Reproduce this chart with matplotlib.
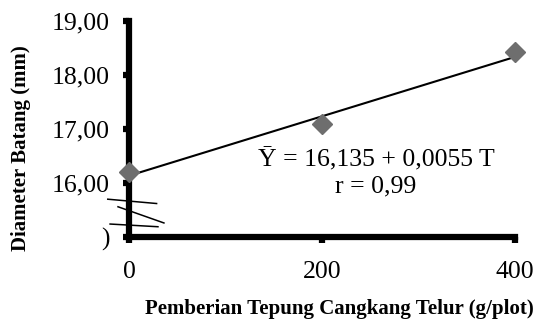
import numpy as np
import matplotlib.pyplot as plt

# data
dosis = [0, 200, 400]
diameter = [16.20, 17.10, 18.43]
a, b = 16.135, 0.0055
ytick_pos = [15, 16, 17, 18, 19]
ytick_lab = [")", "16,00", "17,00", "18,00", "19,00"]
xtick_pos = [0, 200, 400]
xtick_lab = ["0", "200", "400"]

plt.rcParams['font.family'] = ['Liberation Serif', 'DejaVu Serif']

fig = plt.figure(figsize=(5.38, 3.21), dpi=100)
ax = fig.add_axes([129/538, 1-237/321, (515-129)/538, (237-21)/321])

ax.plot(dosis, diameter, 'D', color='#6e6e6e', markersize=10, zorder=4, clip_on=False)
xs = np.array([dosis[0], dosis[-1]])
ax.plot(xs, a + b*xs, color='black', lw=1.5, zorder=3, clip_on=False)

ax.set_xlim(0, 400)
ax.set_ylim(15, 19)
ax.set_xticks(xtick_pos)
ax.set_xticklabels(xtick_lab)
ax.set_yticks(ytick_pos)
ax.set_yticklabels(ytick_lab)

for s in ['top', 'right']:
    ax.spines[s].set_visible(False)
for s in ['left', 'bottom']:
    ax.spines[s].set_linewidth(4.5)
ax.tick_params(axis='both', direction='out', length=4, width=4.5, labelsize=18.5)
ax.tick_params(axis='y', pad=10)
ax.tick_params(axis='x', pad=13)

# break marks on y axis
ax.plot([-22, 28.6], [15.70, 15.62], color='black', lw=1.1, clip_on=False, zorder=5)
ax.plot([-11.4, 36.2], [15.56, 15.26], color='black', lw=1.1, clip_on=False, zorder=5)
ax.plot([-19.6, 30], [15.24, 15.19], color='black', lw=1.1, clip_on=False, zorder=5)

ax.text(256, 16.44, "\u0232 = 16,135 + 0,0055 T", fontsize=18.5, ha='center', va='center')
ax.text(256, 15.93, "r = 0,99", fontsize=18.5, ha='center', va='center')

ax.set_xlabel("Pemberian Tepung Cangkang Telur (g/plot)", fontsize=15, fontweight='bold')
ax.set_ylabel("Diameter Batang (mm)", fontsize=15, fontweight='bold')
ax.xaxis.set_label_coords(0.545, -0.285)
ax.yaxis.set_label_coords(-0.255, 0.41)

fig.savefig("out.png", dpi=100)
